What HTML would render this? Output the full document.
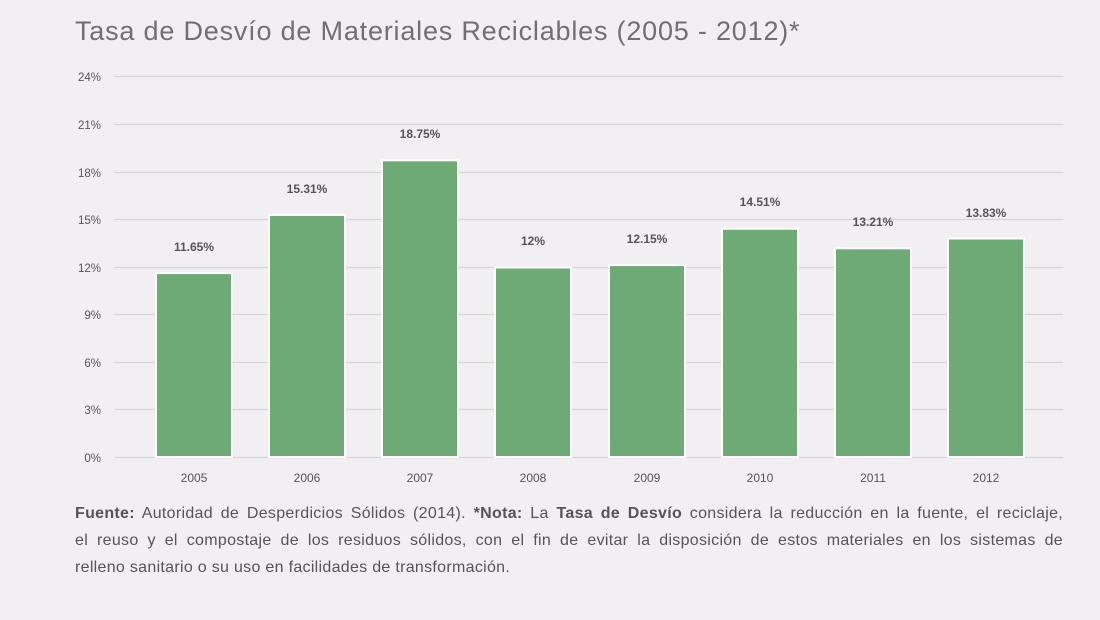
<!DOCTYPE html>
<html><head><meta charset="utf-8"><style>
body{margin:0;width:1100px;height:620px;background:#f1eff2;font-family:"Liberation Sans",sans-serif;overflow:hidden;position:relative}
.t{position:absolute;left:75px;top:16px;font-size:27px;color:#707070;font-weight:300;letter-spacing:0.8px}
.n{position:absolute;left:75px;top:500px;width:988px;font-size:16px;line-height:27px;color:#555;letter-spacing:0.3px}
.n div{text-align:justify;text-align-last:justify;white-space:nowrap;}
.n div.l{text-align-last:left}
svg{position:absolute;left:0;top:0}
</style></head><body>
<div class="t">Tasa de Desvío de Materiales Reciclables (2005 - 2012)*</div>
<svg width="1100" height="620" font-family="Liberation Sans, sans-serif">
<g stroke="#d6d4d8" stroke-width="1.2">
<line x1="115" x2="1063" y1="76.5" y2="76.5"/><line x1="115" x2="1063" y1="124.5" y2="124.5"/>
<line x1="115" x2="1063" y1="172.5" y2="172.5"/><line x1="115" x2="1063" y1="219.5" y2="219.5"/>
<line x1="115" x2="1063" y1="267.5" y2="267.5"/><line x1="115" x2="1063" y1="314.5" y2="314.5"/>
<line x1="115" x2="1063" y1="362.5" y2="362.5"/><line x1="115" x2="1063" y1="409.5" y2="409.5"/>
<line x1="115" x2="1063" y1="457.5" y2="457.5"/>
</g>
<g font-size="11.5" fill="#555" text-anchor="end">
<text x="101" y="81">24%</text><text x="101" y="129">21%</text><text x="101" y="177">18%</text>
<text x="101" y="224">15%</text><text x="101" y="272">12%</text><text x="101" y="319">9%</text>
<text x="101" y="367">6%</text><text x="101" y="414">3%</text><text x="101" y="462">0%</text>
</g>
<g fill="#6eaa75" stroke="#fff" stroke-width="2">
<rect x="156" y="273.1" width="76" height="183.9"/>
<rect x="269" y="215" width="76" height="242"/>
<rect x="382" y="160.3" width="76" height="296.7"/>
<rect x="495" y="267.5" width="76" height="189.5"/>
<rect x="609" y="265.1" width="76" height="191.9"/>
<rect x="722" y="228.7" width="76" height="228.3"/>
<rect x="835" y="248.3" width="76" height="208.7"/>
<rect x="948" y="238.5" width="76" height="218.5"/>
</g>
<g font-size="12" fill="#555" text-anchor="middle" font-weight="bold">
<text x="194" y="251">11.65%</text><text x="307" y="193">15.31%</text><text x="420" y="138">18.75%</text>
<text x="533" y="245">12%</text><text x="647" y="243">12.15%</text><text x="760" y="206">14.51%</text>
<text x="873" y="226">13.21%</text><text x="986" y="217">13.83%</text>
</g>
<g font-size="12" fill="#555" text-anchor="middle">
<text x="194" y="482">2005</text><text x="307" y="482">2006</text><text x="420" y="482">2007</text>
<text x="533" y="482">2008</text><text x="647" y="482">2009</text><text x="760" y="482">2010</text>
<text x="873" y="482">2011</text><text x="986" y="482">2012</text>
</g>
</svg>
<div class="n">
<div><b>Fuente:</b> Autoridad de Desperdicios Sólidos (2014). <b>*Nota:</b> La <b>Tasa de Desvío</b> considera la reducción en la fuente, el reciclaje,</div>
<div>el reuso y el compostaje de los residuos sólidos, con el fin de evitar la disposición de estos materiales en los sistemas de</div>
<div class="l">relleno sanitario o su uso en facilidades de transformación.</div>
</div>
</body></html>
